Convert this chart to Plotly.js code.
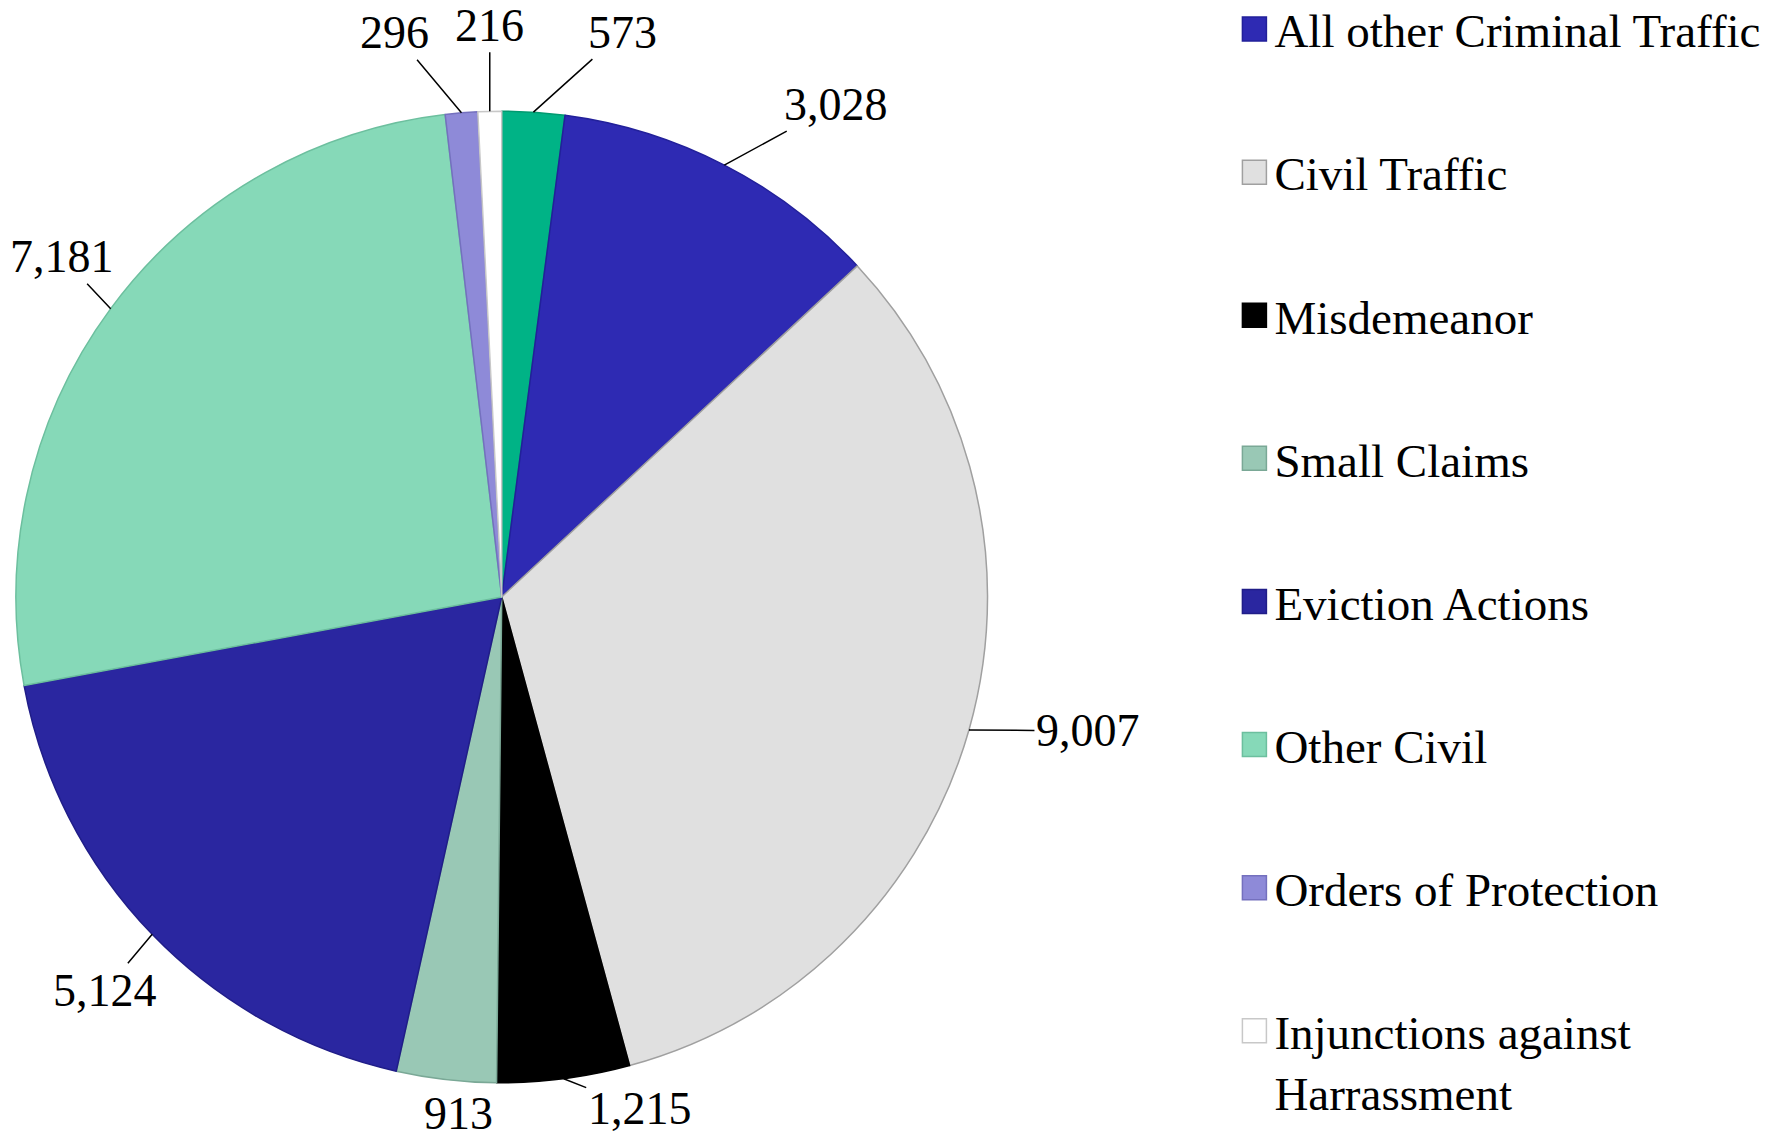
<!DOCTYPE html>
<html>
<head>
<meta charset="utf-8">
<script src="https://cdn.plot.ly/plotly-3.0.1.min.js"></script>
<style>
  html, body { margin: 0; padding: 0; background: #fff; }
  #chart { width: 1789px; height: 1143px; }
</style>
</head>
<body>
<div id="chart"></div>
<script>
// case counts, clockwise from 12 o'clock
const labels = [
    'DUI',
    'All other Criminal Traffic',
    'Civil Traffic',
    'Misdemeanor',
    'Small Claims',
    'Eviction Actions',
    'Other Civil',
    'Orders of Protection',
    'Injunctions against<br>Harrassment',
];
const values = [573, 3028, 9007, 1215, 913, 5124, 7181, 296, 216];
const colors = ['#00b386', '#2e2ab3', '#e0e0e0', '#000000', '#99c8b5', '#2a26a0', '#86d9b8', '#8e8ad8', '#ffffff'];
const lineColors = ['#009a70', '#22209a', '#a0a0a0', '#000000', '#7aa896', '#201d88', '#6cbf9e', '#7470be', '#c8c8c8'];

// where each value label sits relative to its slice edge (px), and whether it has a leader line
const labelOffsets = [[89, -80], [112, -61], [119, 1], [76, 30], [12, 34], [-47, 56], [-49, -52], [-67, -80], [0, -86]];
const labelLeader = [true, true, true, true, false, true, true, true, true];

const font = 'Liberation Serif';
const W = 1789, H = 1143;
const dom = { x: [0.0089, 0.552], y: [0.0525, 0.903] };

const pie = {
    type: 'pie',
    labels: labels,
    values: values,
    sort: false,
    direction: 'clockwise',
    rotation: 0,
    marker: {
        colors: colors,
        line: { color: lineColors, width: 1.5 },
    },
    textinfo: 'none',
    showlegend: false,
    domain: dom,
    hoverinfo: 'label+value',
};

// value labels, anchored at the middle of each slice's rim
const total = values.reduce((a, b) => a + b, 0);
const cx = (dom.x[0] + dom.x[1]) / 2 * W;
const cy = (1 - (dom.y[0] + dom.y[1]) / 2) * H;
const r = Math.min((dom.x[1] - dom.x[0]) * W, (dom.y[1] - dom.y[0]) * H) / 2;
let cum = 0;
const annotations = values.map((v, i) => {
    const a = (cum + v / 2) / total * 2 * Math.PI;
    cum += v;
    const px = cx + r * Math.sin(a);
    const py = cy - r * Math.cos(a);
    return {
        xref: 'paper', yref: 'paper',
        x: px / W, y: 1 - py / H,
        text: v.toLocaleString('en-US'),
        showarrow: true,
        ax: labelOffsets[i][0],
        ay: labelOffsets[i][1],
        arrowhead: 0,
        arrowwidth: 1.5,
        arrowcolor: labelLeader[i] ? '#000' : 'rgba(0,0,0,0)',
        standoff: 0,
        font: { family: font, size: 46, color: '#000' },
    };
});

// legend entries (first slice is not listed in the legend)
const legendTraces = labels.slice(1).map((name, i) => ({
    type: 'scatter',
    mode: 'markers',
    x: [null],
    y: [null],
    name: name,
    legendgroup: 'g' + i,
    marker: {
        symbol: 'square',
        size: 16,
        color: colors[i + 1],
        line: { color: lineColors[i + 1], width: 1 },
    },
    hoverinfo: 'skip',
}));

const layout = {
    width: W,
    height: H,
    margin: { l: 0, r: 0, t: 0, b: 0, autoexpand: false },
    paper_bgcolor: '#fff',
    plot_bgcolor: '#fff',
    font: { family: font, size: 46, color: '#000' },
    xaxis: { visible: false },
    yaxis: { visible: false },
    showlegend: true,
    annotations: annotations,
    legend: {
        x: 0.69,
        y: 1.007,
        xanchor: 'left',
        yanchor: 'top',
        valign: 'top',
        tracegroupgap: 79,
        maxheight: 1200,
        font: { family: font, size: 47, color: '#000' },
        bgcolor: 'rgba(0,0,0,0)',
    },
};

Plotly.newPlot('chart', [pie].concat(legendTraces), layout, { displayModeBar: false }).then(() => {
    // legend squares are bigger in the original than plotly's 16px cap
    document.querySelectorAll('.legend path.scatterpts').forEach(p => {
        const t = p.getAttribute('transform') || '';
        p.setAttribute('transform', t + ' scale(1.5)');
    });
});
</script>
</body>
</html>
